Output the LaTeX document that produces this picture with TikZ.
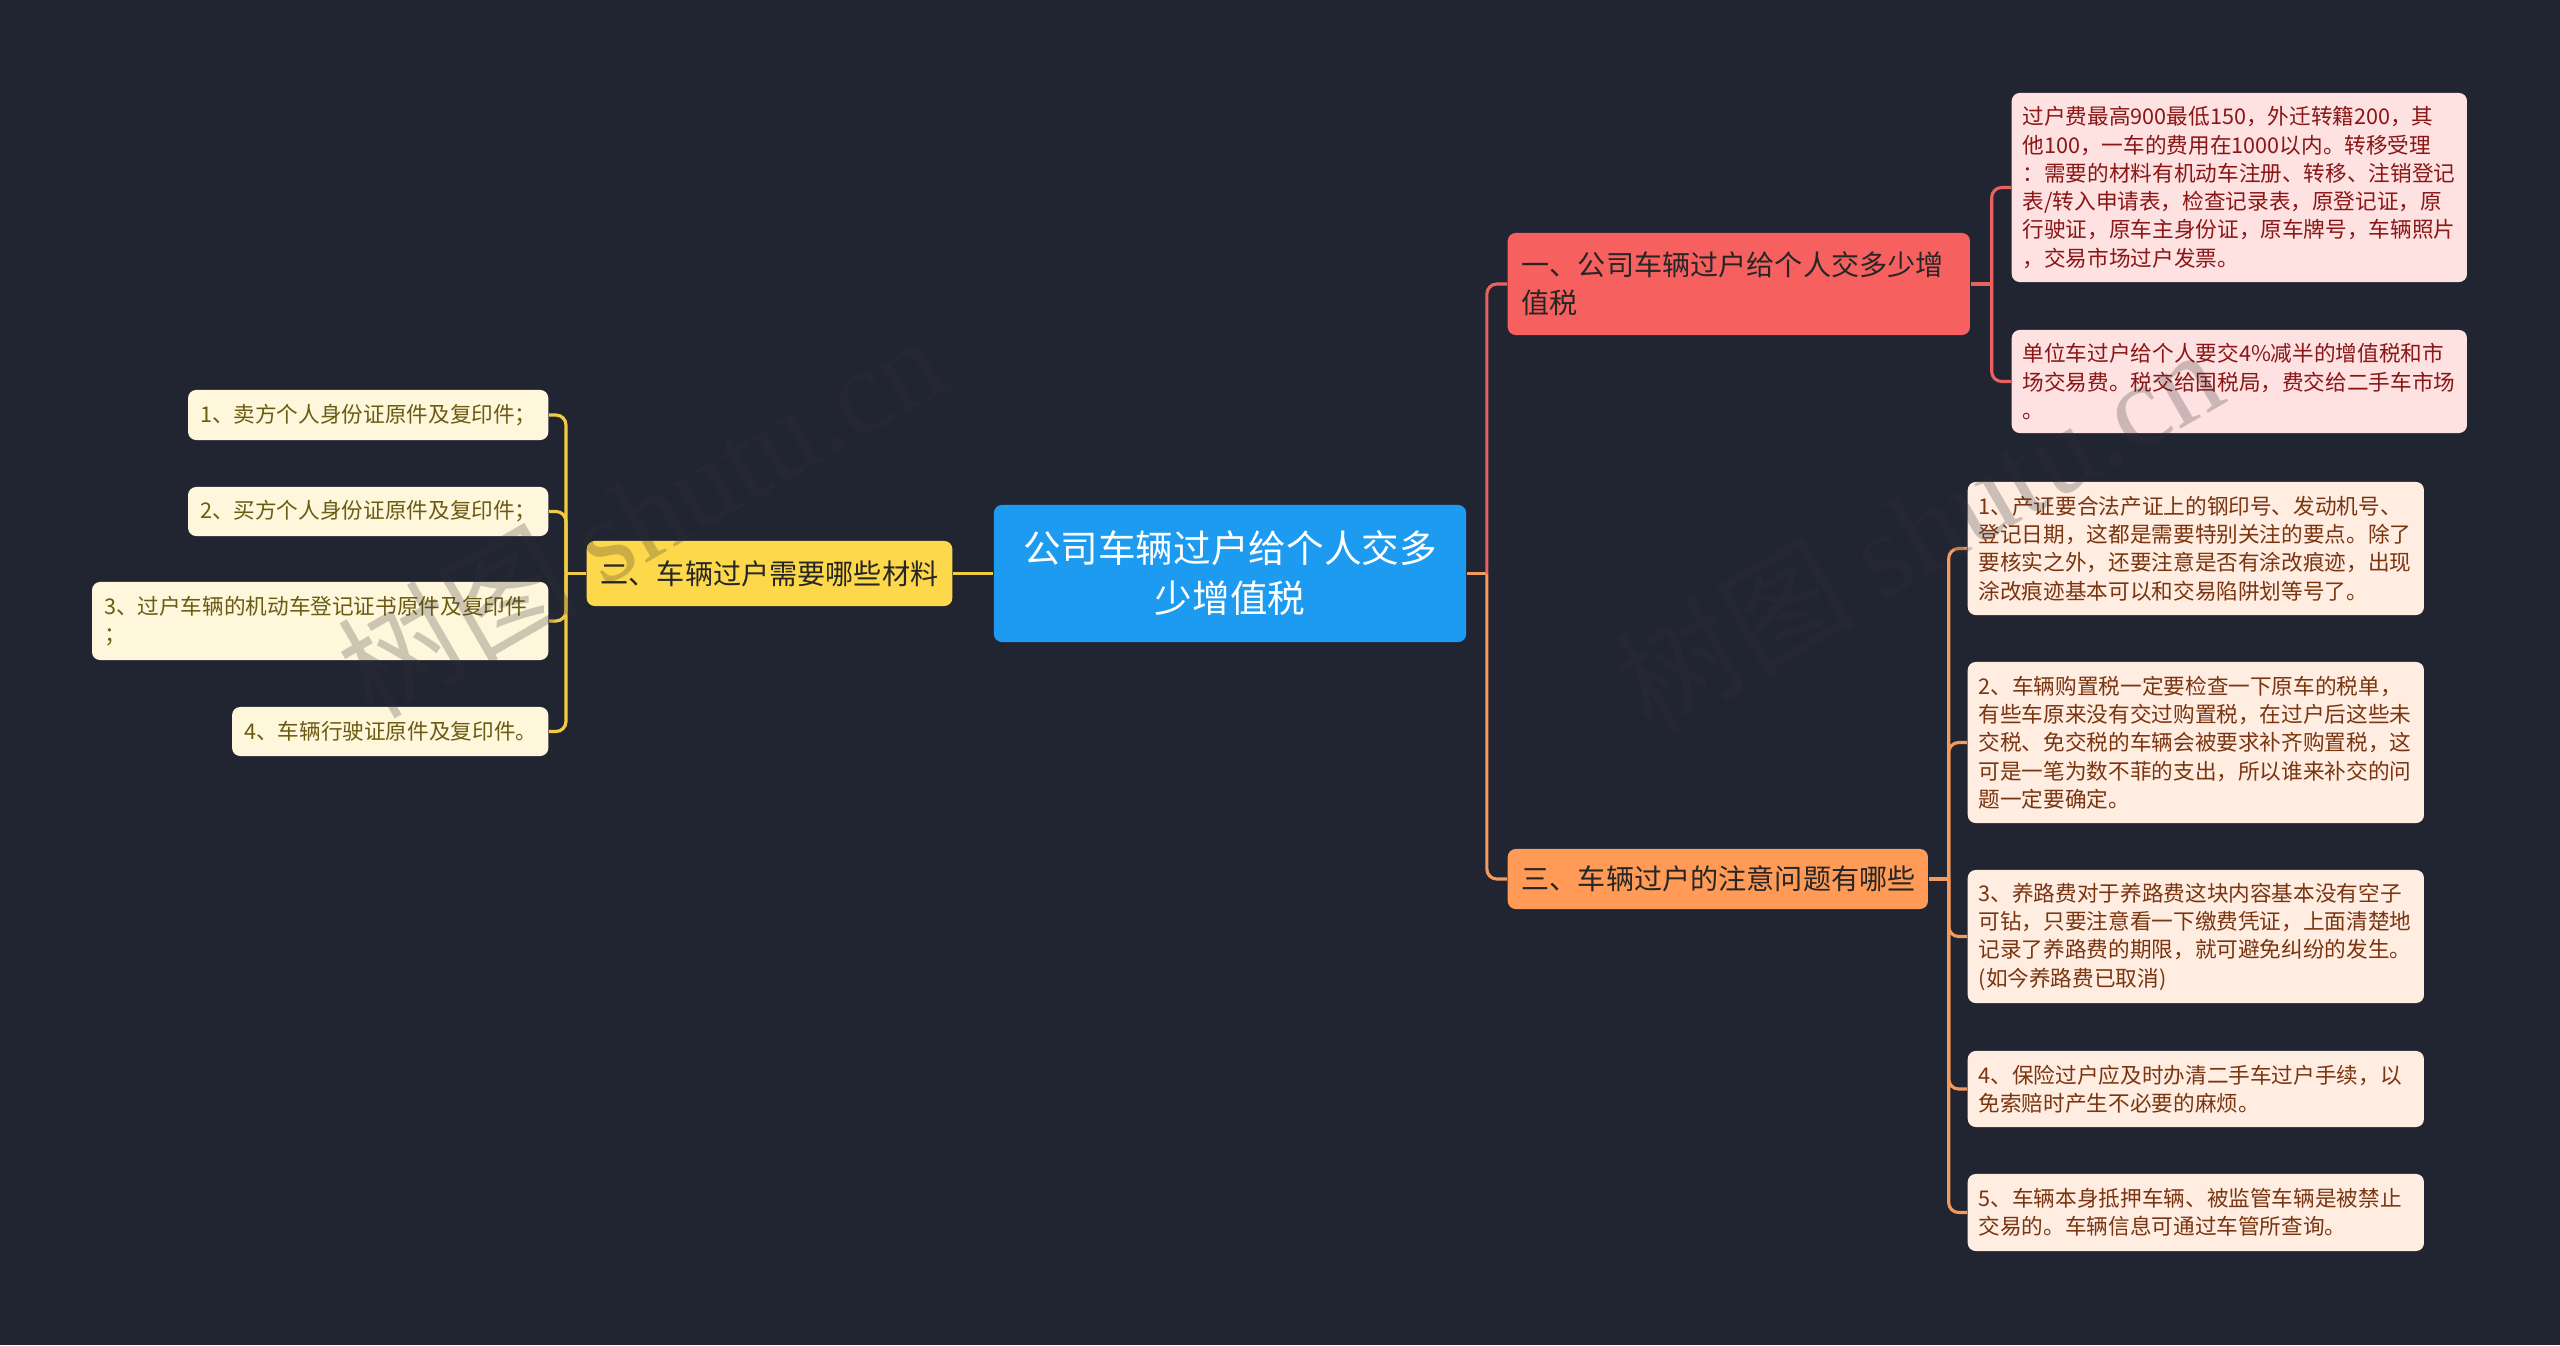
\documentclass[tikz,border=0pt]{standalone}
\usepackage{fontspec}
\setmainfont{Noto Sans CJK SC}
\newfontfamily\markfont{Liberation Serif}
\usetikzlibrary{positioning}
\definecolor{bgCol}{HTML}{212532}
\definecolor{rootCol}{HTML}{1D9BF0}
\definecolor{yelCol}{HTML}{FDD84B}
\definecolor{yelLine}{HTML}{F2CB45}
\definecolor{yelLeaf}{HTML}{FEF7DC}
\definecolor{yelText}{HTML}{6B5B12}
\definecolor{redCol}{HTML}{F6605F}
\definecolor{redLine}{HTML}{E9625F}
\definecolor{redLeaf}{HTML}{FEE1E1}
\definecolor{redText}{HTML}{8A1616}
\definecolor{oraCol}{HTML}{FF9B56}
\definecolor{oraLine}{HTML}{F39A5C}
\definecolor{oraLeaf}{HTML}{FFEDE2}
\definecolor{oraText}{HTML}{7A3510}

\begin{document}
\begin{tikzpicture}[x=0.01cm,y=-0.01cm,
  box/.style={rounded corners=0.08cm,inner ysep=0.03cm},
  rootbox/.style={box,fill=rootCol,text=white,align=center,
    minimum width=4.72cm,minimum height=1.37cm,
    font=\fontsize{10.7pt}{14.2pt}\selectfont},
  topic/.style={box,fill=#1,text=black!85,inner xsep=0.14cm,
    font=\fontsize{8pt}{10.7pt}\selectfont},
  leaf/.style={box,fill=#1,inner xsep=0.11cm,align=left,
    font=\fontsize{6.15pt}{8.05pt}\selectfont},
  link/.style={line width=0.9pt,rounded corners=0.1cm,#1},
  wmark/.style={text=black!80,opacity=0.25,rotate=30,
    font=\fontsize{34pt}{34pt}\selectfont},
]

\fill[bgCol] (0,0) rectangle (2560,1345);

% centre and main topics
\node[rootbox] (root) at (1230,573.5) {公司车辆过户给个人交多\\少增值税};
\node[topic=redCol,anchor=west,text width=4.34cm,align=left,minimum height=1.02cm] (t1) at (1507,284) {一、公司车辆过户给个人交多少增\\值税};
\node[topic=yelCol,anchor=east,minimum width=3.63cm,minimum height=0.65cm] (t2) at (953,573.5) {二、车辆过户需要哪些材料};
\node[topic=oraCol,anchor=west,text width=3.92cm,align=left,minimum height=0.60cm] (t3) at (1507,879) {三、车辆过户的注意问题有哪些};

% topic one
\node[leaf=redLeaf,text=redText,anchor=west,text width=4.33cm,minimum height=1.89cm] (r1) at (2011,187.5) {过户费最高900最低150，外迁转籍200，其\\他100，一车的费用在1000以内。转移受理\\：需要的材料有机动车注册、转移、注销登记\\表/转入申请表，检查记录表，原登记证，原\\行驶证，原车主身份证，原车牌号，车辆照片\\，交易市场过户发票。};
\node[leaf=redLeaf,text=redText,anchor=west,text width=4.33cm,minimum height=1.03cm] (r2) at (2011,381.5) {单位车过户给个人要交4\%减半的增值税和市\\场交易费。税交给国税局，费交给二手车市场\\。};

% topic two
\node[leaf=yelLeaf,text=yelText,anchor=east,text width=3.36cm,inner xsep=0.12cm,minimum height=0.50cm] (l1) at (549,415) {1、卖方个人身份证原件及复印件；};
\node[leaf=yelLeaf,text=yelText,anchor=east,text width=3.36cm,inner xsep=0.12cm,minimum height=0.49cm] (l2) at (549,511.5) {2、买方个人身份证原件及复印件；};
\node[leaf=yelLeaf,text=yelText,anchor=east,text width=4.32cm,inner xsep=0.12cm,minimum height=0.78cm] (l3) at (549,621) {3、过户车辆的机动车登记证书原件及复印件\\；};
\node[leaf=yelLeaf,text=yelText,anchor=east,text width=2.92cm,inner xsep=0.12cm,minimum height=0.49cm] (l4) at (549,731.5) {4、车辆行驶证原件及复印件。};

% topic three
\node[leaf=oraLeaf,text=oraText,anchor=west,text width=4.34cm,minimum height=1.33cm] (o1) at (1967,548.5) {1、产证要合法产证上的钢印号、发动机号、\\登记日期，这都是需要特别关注的要点。除了\\要核实之外，还要注意是否有涂改痕迹，出现\\涂改痕迹基本可以和交易陷阱划等号了。};
\node[leaf=oraLeaf,text=oraText,anchor=west,text width=4.34cm,minimum height=1.61cm] (o2) at (1967,742.5) {2、车辆购置税一定要检查一下原车的税单，\\有些车原来没有交过购置税，在过户后这些未\\交税、免交税的车辆会被要求补齐购置税，这\\可是一笔为数不菲的支出，所以谁来补交的问\\题一定要确定。};
\node[leaf=oraLeaf,text=oraText,anchor=west,text width=4.34cm,minimum height=1.33cm] (o3) at (1967,936.5) {3、养路费对于养路费这块内容基本没有空子\\可钻，只要注意看一下缴费凭证，上面清楚地\\记录了养路费的期限，就可避免纠纷的发生。\\(如今养路费已取消)};
\node[leaf=oraLeaf,text=oraText,anchor=west,text width=4.34cm,minimum height=0.76cm] (o4) at (1967,1089) {4、保险过户应及时办清二手车过户手续，以\\免索赔时产生不必要的麻烦。};
\node[leaf=oraLeaf,text=oraText,anchor=west,text width=4.34cm,minimum height=0.77cm] (o5) at (1967,1212.5) {5、车辆本身抵押车辆、被监管车辆是被禁止\\交易的。车辆信息可通过车管所查询。};

% connectors
\draw[link=yelLine] (root.west) -- (t2.east);
\draw[link=yelLine] (t2.west) -- ++(-20,0) coordinate (lbus);
\foreach \n in {l1,l2,l3,l4}
  \draw[link=yelLine] (lbus) |- (\n.east);

\draw[link=oraLine] (root.east) -- ++(20,0) coordinate (tbus);
\draw[link=redLine] (tbus) |- (t1.west);
\draw[link=oraLine] (tbus) |- (t3.west);

\draw[link=redLine] (t1.east) -- ++(21,0) coordinate (rbus);
\foreach \n in {r1,r2}
  \draw[link=redLine] (rbus) |- (\n.west);

\draw[link=oraLine] (t3.east) -- ++(20,0) coordinate (obus);
\foreach \n in {o1,o2,o3,o4,o5}
  \draw[link=oraLine] (obus) |- (\n.west);

% watermarks
\node[wmark] (wm1) at (640,514) {树图 {\markfont shutu.cn}};
\node[wmark] (wm2) at (1918,528) {树图 {\markfont shutu.cn}};

\end{tikzpicture}
\end{document}
